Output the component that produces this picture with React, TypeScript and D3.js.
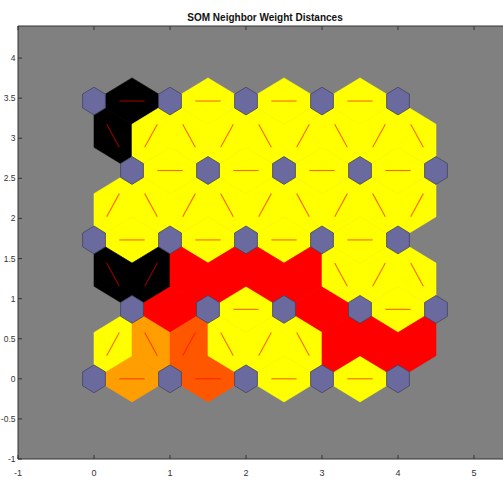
import React from 'react'
import * as d3 from 'd3'

// SOM grid size (hextop layout)
const gridRows = 5
const gridCols = 5

// normalized neighbor weight distances (0 = closest, 1 = farthest)
// horizontal edges, one list per row, left to right
const rowEdgeDist: number[][] = [
  [0.19, 0.33, 0, 0],
  [0.5, 0, 0.5, 0],
  [0, 0, 0, 0],
  [0, 0, 0, 0],
  [1, 0, 0, 0]
]
// diagonal edges between row r and r+1, left to right
const diagEdgeDist: number[][] = [
  [0, 0.19, 0.33, 0, 0, 0, 0.5, 0.5, 0.5],
  [1, 1, 0.5, 0.5, 0.5, 0.5, 0, 0, 0],
  [0, 0, 0, 0, 0, 0, 0, 0, 0],
  [1, 0, 0, 0, 0, 0, 0, 0, 0]
]

const xTicks = [-1, 0, 1, 2, 3, 4, 5]
const yTicks = [-1, -0.5, 0, 0.5, 1, 1.5, 2, 2.5, 3, 3.5, 4]
const title = 'SOM Neighbor Weight Distances'

const W = 503
const H = 487
const left = 18
const bottom = 459
const top = 26
const right = 512

interface Neuron { r: number; c: number; x: number; y: number }
interface Edge { a: Neuron; b: Neuron; d: number }

const H3 = Math.sqrt(0.75)

function edgeColor(d: number) {
  const level = 1 - d
  const red = Math.min(level * 2, 1)
  const green = Math.max(level * 2 - 1, 0)
  return d3.rgb(red * 255, green * 255, 0).toString()
}

export default function App() {
  const x = d3.scaleLinear().domain([-1, 5.5]).range([left, right])
  const y = d3.scaleLinear().domain([-1, 4.4]).range([bottom, top])

  const neurons: Neuron[] = []
  for (let r = 0; r < gridRows; r++) {
    for (let c = 0; c < gridCols; c++) {
      neurons.push({ r, c, x: c + (r % 2) * 0.5, y: r * H3 })
    }
  }
  const at = (r: number, c: number) => neurons[r * gridCols + c]

  const edges: Edge[] = []
  rowEdgeDist.forEach((row, r) => {
    row.forEach((d, c) => edges.push({ a: at(r, c), b: at(r, c + 1), d }))
  })
  diagEdgeDist.forEach((row, r) => {
    const pairs: [Neuron, Neuron][] = []
    for (let i = 0; i < gridCols; i++) {
      for (let j = 0; j < gridCols; j++) {
        const a = at(r, i), b = at(r + 1, j)
        if (Math.abs(Math.hypot(a.x - b.x, a.y - b.y) - 1) < 1e-6) pairs.push([a, b])
      }
    }
    pairs.sort((p, q) => (p[0].x + p[1].x) - (q[0].x + q[1].x))
    pairs.forEach((p, k) => edges.push({ a: p[0], b: p[1], d: row[k] }))
  })

  // rhombus patch between two neurons
  const ex = [-1, 0, 1, 0].map(v => v * 0.5)
  const ey = [0, 1, 0, -1].map(v => v * H3 / 3)
  const rhombus = (e: Edge) => {
    const ang = Math.atan2(e.b.y - e.a.y, e.b.x - e.a.x)
    const mx = (e.a.x + e.b.x) / 2
    const my = (e.a.y + e.b.y) / 2
    return ex.map((vx, i) => {
      const px = mx + vx * Math.cos(ang) - ey[i] * Math.sin(ang)
      const py = my + vx * Math.sin(ang) + ey[i] * Math.cos(ang)
      return `${x(px)},${y(py)}`
    }).join(' ')
  }

  const sx = [-1, 0, 1, 1, 0, -1].map(v => v * 0.5 * 0.3)
  const sy = [1, 2, 1, -1, -2, -1].map(v => v * H3 / 3 * 0.3)
  const hexPts = (n: Neuron) => sx.map((v, i) => `${x(n.x + v)},${y(n.y + sy[i])}`).join(' ')

  const font = 'Arial, "Liberation Sans", Helvetica, sans-serif'

  return (
    <svg width={W} height={H} style={{ position: 'absolute', left: 0, top: 0, background: '#fff' }}>
      <defs>
        <clipPath id="plot">
          <rect x={left} y={top} width={right - left} height={bottom - top} />
        </clipPath>
      </defs>
      <rect x={left} y={top} width={right - left} height={bottom - top} fill="#808080" />
      <g clipPath="url(#plot)">
        {edges.map((e, i) => (
          <polygon key={'p' + i} points={rhombus(e)} fill={edgeColor(e.d)} stroke={edgeColor(e.d)} strokeWidth={0.6} />
        ))}
        {edges.map((e, i) => {
          const x1 = (2 * e.a.x + e.b.x) / 3, y1 = (2 * e.a.y + e.b.y) / 3
          const x2 = (e.a.x + 2 * e.b.x) / 3, y2 = (e.a.y + 2 * e.b.y) / 3
          return <line key={'l' + i} x1={x(x1)} y1={y(y1)} x2={x(x2)} y2={y(y2)} stroke="#ff0000" strokeOpacity={0.6} strokeWidth={1.1} />
        })}
        {neurons.map((n, i) => (
          <polygon key={'n' + i} points={hexPts(n)} fill="#6a6a9e" stroke="#44445c" strokeWidth={0.8} />
        ))}
      </g>
      {/* axes box */}
      <line x1={left} x2={right} y1={bottom} y2={bottom} stroke="#333" strokeWidth={1} />
      <line x1={left} x2={left} y1={top} y2={bottom} stroke="#333" strokeWidth={1} />
      <line x1={left} x2={right} y1={top} y2={top} stroke="#333" strokeWidth={1} />
      {xTicks.map(t => (
        <g key={'xt' + t}>
          <line x1={x(t)} x2={x(t)} y1={bottom} y2={bottom - 4} stroke="#333" />
          <line x1={x(t)} x2={x(t)} y1={top} y2={top + 4} stroke="#333" />
          <text x={x(t)} y={476} textAnchor="middle" fontSize={9} fontFamily={font} fill="#333">{t}</text>
        </g>
      ))}
      {yTicks.map(t => (
        <g key={'yt' + t}>
          <line x1={left} x2={left + 4} y1={y(t)} y2={y(t)} stroke="#333" />
          <text x={15.5} y={y(t) + 3} textAnchor="end" fontSize={8.5} fontFamily={font} fill="#333">{t}</text>
        </g>
      ))}
      <text x={(left + right) / 2} y={21} textAnchor="middle" fontSize={10} fontWeight="bold" fontFamily={font} fill="#111">{title}</text>
    </svg>
  )
}
